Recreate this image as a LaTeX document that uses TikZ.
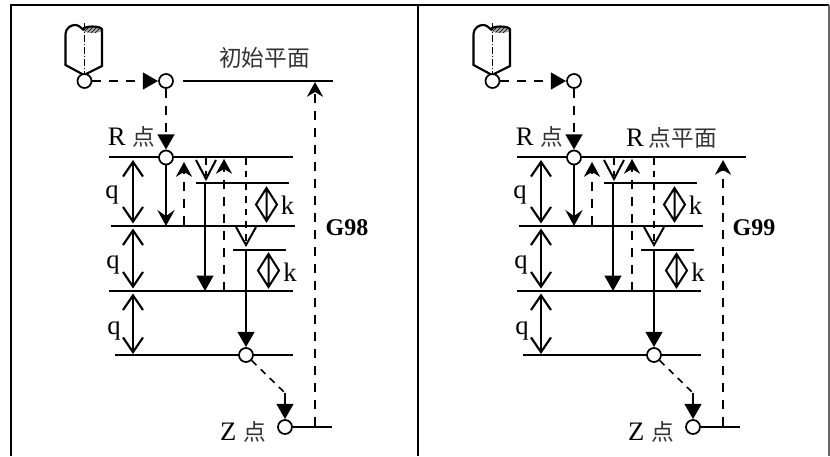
\documentclass[tikz,border=0pt]{standalone}
\usepackage{fontspec}
\usepackage{tikz}
\usepackage{xcolor}
\usetikzlibrary{arrows.meta,patterns}
\setmainfont{Liberation Serif}
\newfontfamily\cjk{Noto Sans CJK SC}

\tikzset{
    framerule/.style={line width=1.5pt},
    levelline/.style={line width=1.5pt},
    drillline/.style={line width=1.6pt},
    heavyline/.style={line width=2.1pt},
    markline/.style={line width=1.5pt},
    dashline/.style={line width=2pt, dash pattern=on 6.75pt off 6pt},
    stubdash/.style={line width=1.5pt, dash pattern=on 5pt off 4.5pt},
    thindash/.style={line width=1.2pt, dash pattern=on 5pt off 4.5pt},
    markcircle/.style={circle, draw, fill=white, line width=1.3pt, minimum size=10.5pt, inner sep=0pt},
    fullhead/.style={-{Triangle[length=11.5pt,width=12.5pt]}},
    returnhead/.style={-{Stealth[length=11pt,width=12pt,inset=3.5pt]}},
    drophead/.style={-{Stealth[length=12pt,width=13pt,inset=4.5pt]}},
    feedspan/.style={line width=1.6pt, {Straight Barb[length=11pt,width=15pt]}-{Straight Barb[length=11pt,width=15pt]}},
    plaintext/.style={inner sep=0pt, font=\fontsize{20}{22}\selectfont},
    hantext/.style={inner sep=0pt, font=\cjk\fontsize{17}{20}\selectfont, black!80},
    cycletext/.style={inner sep=0pt, font=\bfseries\fontsize{18}{20}\selectfont},
}

\newcommand{\drillcycle}{%
    % drill
    \fill[black!35] (83,29.5) arc (180:0:9.5 and 3.5) arc (360:180:9.5 and 3);
    \draw[pattern=north east lines, draw=none] (83,29.5) arc (180:0:9.5 and 3.5) arc (360:180:9.5 and 3);
    \draw[drillline] (84,75) -- (65.5,65) -- (65.5,35) .. controls (65.5,27) and (72,25) .. (75,25)
        .. controls (79,25) and (81,28) .. (83,29.5) arc (180:360:9.5 and 3) -- (102,66) -- (84,75);
    \draw[line width=.7pt, dash pattern=on 5pt off 1.5pt on 1pt off 1.5pt] (84,23) -- (84,75);
    % levels
    \draw[levelline] (109,157) -- (293,157);
    \draw[levelline] (196,183) -- (289,183);
    \draw[levelline] (111,226) -- (295,226);
    \draw[levelline] (233,250) -- (286,250);
    \draw[levelline] (109,291) -- (293,291);
    \draw[levelline] (115,355) -- (293,355);
    \coordinate (zline) at (332,427);
    \node[markcircle] (tool) at (84.5,81) {};
    \node[markcircle] (init) at (166,81) {};
    \node[markcircle] (rpt) at (166,157.5) {};
    \node[markcircle] (bot) at (246,355) {};
    \node[markcircle] (zpt) at (285,427) {};
    \draw[levelline] (zpt) -- (zline);
    % rapid moves
    \draw[dashline, fullhead] (tool) -- (init);
    \draw[dashline, fullhead] (init) -- (rpt);
    % feed steps
    \coordinate (drop1) at (166,226);
    \draw[drillline, drophead] (rpt) -- (drop1);
    \coordinate (ret1a) at (184,225);
    \coordinate (ret1b) at (184,162);
    \draw[dashline, returnhead] (ret1a) -- (ret1b);
    \draw[markline] (196,160) -- (206,179) -- (216,160);
    \coordinate (stub1a) at (206,158);
    \coordinate (stub1b) at (206,176);
    \draw[stubdash] (stub1a) -- (stub1b);
    \coordinate (drop2a) at (205,184);
    \coordinate (drop2b) at (205,291);
    \draw[drillline, fullhead] (drop2a) -- (drop2b);
    \coordinate (ret2a) at (224,291);
    \coordinate (ret2b) at (224,159);
    \draw[dashline, returnhead] (ret2a) -- (ret2b);
    \coordinate (stub2a) at (246,158);
    \coordinate (stub2b) at (246,241);
    \draw[stubdash] (stub2a) -- (stub2b);
    \draw[markline] (236,227) -- (246,245) -- (256,227);
    \coordinate (drop3) at (246,249);
    \draw[heavyline, fullhead] (drop3) -- (bot);
    % to Z
    \coordinate (bend) at (285,393);
    \draw[thindash] (bot) -- (bend);
    \draw[heavyline, fullhead] (bend) -- (zpt);
    % q spans
    \coordinate (qa) at (133,160);
    \coordinate (qb) at (133,223.5);
    \coordinate (qc) at (133,228.5);
    \coordinate (qd) at (133,288.5);
    \coordinate (qe) at (133,293.5);
    \coordinate (qf) at (133,354);
    \draw[feedspan] (qa) -- (qb);
    \draw[feedspan] (qc) -- (qd);
    \draw[feedspan] (qe) -- (qf);
    % k marks
    \draw[markline] (266.5,188) -- (277,204.5) -- (266.5,221) -- (256,204.5) -- cycle (266.5,188) -- (266.5,221);
    \draw[markline] (268.5,254) -- (279,270.5) -- (268.5,287) -- (258,270.5) -- cycle (268.5,254) -- (268.5,287);
    % labels
    \node[plaintext] (q1) at (112,195) {q};
    \node[plaintext] (q2) at (113,265) {q};
    \node[plaintext] (q3) at (114,331) {q};
    \node[plaintext] (k1) at (287.5,205) {k};
    \node[plaintext] (k2) at (290,272) {k};
    \node[plaintext] (rname) at (131.5,137) {R {\cjk\fontsize{17}{20}\selectfont\color{black!80} 点}};
    \node[plaintext] (zname) at (243,432) {Z {\cjk\fontsize{17}{20}\selectfont\color{black!80} 点}};
}

\begin{document}
\begin{tikzpicture}[x=0.75pt, y=-0.75pt]
    \useasboundingbox (0,0) rectangle (830,456);
    % frame
    \draw[framerule] (11,456) -- (11,5) -- (829,5);
    \draw[framerule] (418,5) -- (418,456);
    \draw[line width=.8pt, black!60] (829,5) -- (829,456);

    % G98
    \begin{scope}
    \drillcycle
    \coordinate (inita) at (183,81);
    \coordinate (initb) at (333,81);
    \coordinate (rettop) at (315,82);
    \coordinate (retend) at (315,426);
    \draw[levelline] (inita) -- (initb);
    \draw[dashline, returnhead] (retend) -- (rettop);
    \node[hantext] (initname) at (264.5,58) {初始平面};
    \node[cycletext] (cyclename) at (347,228) {G98};
    \end{scope}

    % G99
    \begin{scope}[shift={(408,0)}]
    \drillcycle
    \coordinate (rlinea) at (293,157);
    \coordinate (rlineb) at (338,157);
    \coordinate (rettop) at (315,160);
    \coordinate (retend) at (315,426);
    \draw[levelline] (rlinea) -- (rlineb);
    \draw[dashline, returnhead] (retend) -- (rettop);
    \node[hantext] (rplane) at (263.5,138) {\textcolor{black}{\fontspec{Liberation Serif}\fontsize{20}{22}\selectfont R} 点平面};
    \node[cycletext] (cyclename) at (346,228) {G99};
    \end{scope}
\end{tikzpicture}
\end{document}
